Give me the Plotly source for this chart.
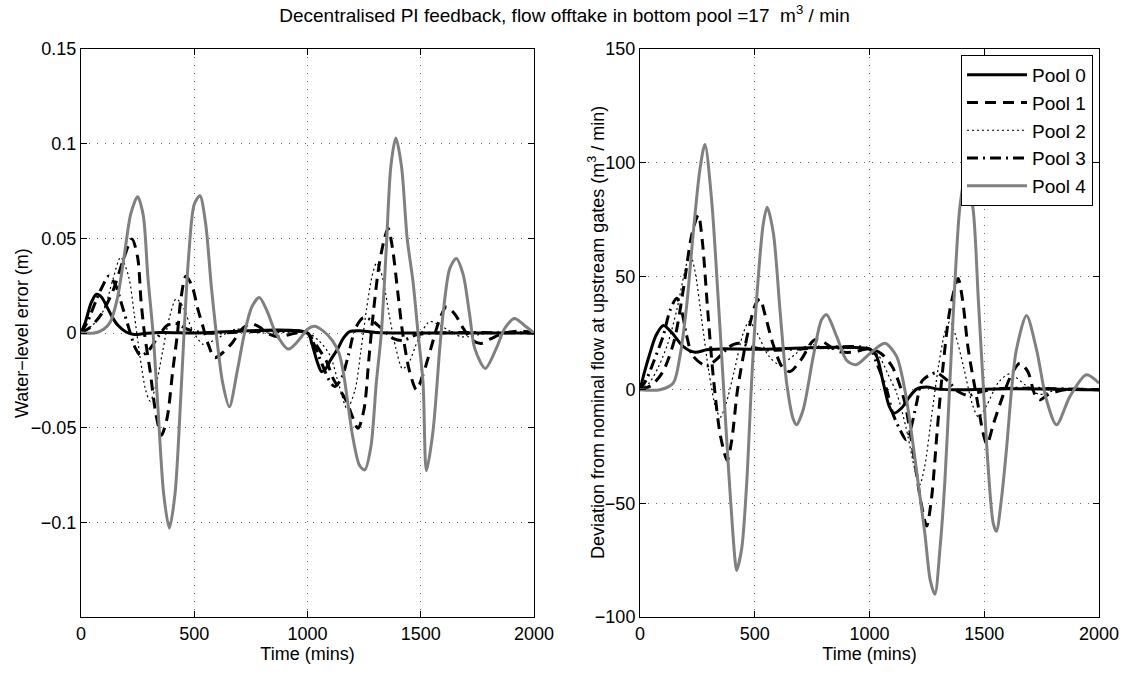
import plotly.graph_objects as go

# ---------------- data ----------------
# Left panel: water-level error (m)
t_l0 = [0, 20, 45, 68, 90, 118, 140, 162, 199, 235, 280, 350, 500, 1000, 1020, 1045, 1062, 1080, 1098, 1135, 1157, 1186, 1230, 1300, 1500, 2000]
y_l0 = [0, 0.006, 0.016, 0.0205, 0.019, 0.013, 0.008, 0.0042, 0.0005, -0.0008, -0.0003, 0.0003, 0, 0, -0.006, -0.016, -0.0204, -0.019, -0.015, -0.008, -0.003, 0.0007, 0.0012, 0.0003, 0, 0]

t_l1 = [0, 40, 90, 140, 185, 225, 250, 265, 280, 305, 331, 355, 380, 405, 426, 441, 463, 490, 515, 537, 559, 590, 630, 669, 710, 750, 790, 820, 870, 950,
        1000, 1025, 1084, 1113, 1172, 1223, 1250, 1270, 1290, 1315, 1340, 1356, 1375, 1400, 1420, 1450, 1481, 1510, 1545, 1580, 1613, 1650, 1690, 1730, 1767, 1810, 1870, 1950, 2000]
y_l1 = [0, 0.003, 0.01, 0.022, 0.038, 0.0496, 0.04, 0.017, 0, -0.02, -0.043, -0.054, -0.045, -0.02, 0, 0.018, 0.03, 0.025, 0.013, 0.004, -0.005, -0.013, -0.01, -0.005, 0.002, 0.005, 0.003, 0, -0.002, 0,
        0, -0.004, -0.015, -0.024, -0.036, -0.0503, -0.04, -0.015, 0.01, 0.035, 0.05, 0.0553, 0.045, 0.02, 0, -0.02, -0.03, -0.022, -0.008, 0.006, 0.0139, 0.01, 0.002, -0.004, -0.0055, -0.003, 0, 0.001, 0]

t_l2 = [0, 50, 100, 140, 175, 210, 235, 260, 285, 305, 330, 360, 390, 420, 450, 490, 540, 600, 680, 800,
        1000, 1050, 1100, 1140, 1175, 1210, 1235, 1260, 1285, 1305, 1330, 1360, 1390, 1420, 1450, 1490, 1540, 1600, 1680, 1800, 2000]
y_l2 = [0, 0.004, 0.012, 0.028, 0.04, 0.03, 0.01, -0.012, -0.03, -0.036, -0.028, -0.01, 0.008, 0.018, 0.014, 0.002, -0.006, -0.003, 0.002, 0,
        0, -0.004, -0.012, -0.028, -0.04, -0.03, -0.01, 0.012, 0.03, 0.037, 0.03, 0.01, -0.008, -0.019, -0.015, -0.003, 0.006, 0.003, -0.002, 0, 0]

t_l3 = [0, 29, 66, 96, 122, 150, 180, 210, 240, 265, 300, 340, 380, 420, 470, 550,
        1000, 1029, 1066, 1096, 1120, 1150, 1180, 1210, 1245, 1280, 1330, 1380, 1420, 1480, 1560, 2000]
y_l3 = [0, 0.006, 0.017, 0.025, 0.03, 0.026, 0.015, 0.003, -0.008, -0.012, -0.009, -0.002, 0.004, 0.005, 0.002, 0,
        0, -0.006, -0.017, -0.025, -0.0283, -0.024, -0.012, 0.002, 0.008, 0.007, 0.002, -0.003, -0.004, -0.001, 0, 0]

t_l4 = [0, 60, 100, 130, 160, 190, 220, 250, 275, 295, 318, 340, 365, 390, 415, 440, 455, 475, 500, 525, 550, 575, 597, 625, 655, 690, 722, 755, 787, 820, 860, 915, 960,
        1000, 1030, 1070, 1110, 1140, 1160, 1200, 1230, 1253, 1280, 1304, 1326, 1348, 1368, 1390, 1415, 1440, 1466, 1488, 1510, 1525, 1554, 1584, 1598, 1628, 1657, 1687, 1716, 1738, 1785, 1834, 1871, 1914, 1958, 2000]
y_l4 = [0, 0, 0.002, 0.006, 0.018, 0.04, 0.063, 0.072, 0.062, 0.03, 0, -0.04, -0.085, -0.103, -0.085, -0.035, 0, 0.04, 0.068, 0.0725, 0.058, 0.025, 0, -0.026, -0.039, -0.02, 0, 0.014, 0.0187, 0.012, 0, -0.0085, -0.004,
        0.002, 0.0035, 0.001, -0.004, -0.011, -0.022, -0.055, -0.07, -0.0723, -0.06, -0.026, 0, 0.045, 0.088, 0.103, 0.088, 0.05, 0.027, 0, -0.026, -0.0727, -0.052, -0.008, 0.0095, 0.034, 0.0394, 0.031, 0.0095, -0.008, -0.0187, -0.008, 0.0025, 0.0077, 0.004, 0]

# Right panel: deviation from nominal flow (m^3/min)
t_r0 = [0, 20, 40, 70, 102, 140, 189, 240, 290, 350, 500, 1000, 1030, 1060, 1085, 1105, 1140, 1175, 1205, 1249, 1300, 1400, 1600, 2000]
y_r0 = [0, 8, 15, 24, 28.3, 25, 19, 16.5, 17.6, 18, 17.8, 17.9, 15, 3, -7, -10.3, -8, -3, 0.3, 1.2, 0.3, 0, 0.5, 0]

t_r1 = [0, 50, 100, 150, 190, 225, 254, 272, 295, 320, 350, 380, 400, 425, 470, 505, 523, 545, 580, 620, 653, 700, 760, 800, 860, 920,
        1000, 1050, 1100, 1150, 1190, 1225, 1249, 1270, 1295, 1320, 1350, 1386, 1405, 1430, 1470, 1495, 1512, 1540, 1580, 1620, 1655, 1690, 1720, 1742, 1780, 1850, 2000]
y_r1 = [0, 2, 8, 22, 45, 68, 77, 65, 35, 5, -20, -31, -22, 0, 25, 38, 40, 33, 20, 10, 8, 13, 22, 21, 17, 16.5,
        18, 16, 10, -4, -27, -50, -60, -48, -18, 10, 35, 49, 40, 18, -5, -19, -24, -15, -3, 7, 11.7, 8, -2, -4.4, -2, 0, 0]

t_r2 = [0, 40, 80, 120, 160, 195, 218, 240, 270, 300, 330, 350, 375, 410, 450, 475, 510, 560, 610, 680, 740, 820,
        1000, 1040, 1080, 1120, 1160, 1195, 1218, 1240, 1270, 1300, 1330, 1350, 1375, 1410, 1450, 1475, 1510, 1560, 1610, 1680, 1740, 1820, 2000]
y_r2 = [0, 3, 10, 20, 35, 52, 60, 52, 30, 8, -8, -12, -6, 8, 25, 30, 25, 15, 11, 16, 20, 18,
        18, 15, 7, -2, -17, -34, -42, -34, -12, 10, 26, 30, 24, 10, -7, -12, -7, 3, 7, 2, -2, 0, 0]

t_r3 = [0, 30, 58, 102, 131, 160, 181, 203, 230, 290, 340, 390, 430, 480, 560, 700,
        1000, 1030, 1075, 1100, 1130, 1160, 1180, 1205, 1230, 1290, 1340, 1390, 1430, 1480, 1560, 2000]
y_r3 = [0, 5, 12, 24, 35, 40.3, 35, 24, 15, 10.5, 14, 19, 20.5, 19, 17.5, 18,
        18, 12, 0, -10, -17, -22, -17, -6, 4, 7.5, 4, -1, -2.5, -1, 0.5, 0]

t_r4 = [0, 87, 145, 174, 203, 232, 261, 283, 312, 341, 363, 385, 414, 421, 443, 465, 486, 508, 537, 554, 581, 610, 639, 668, 682, 711, 755, 791, 813, 857, 900, 941,
        1002, 1067, 1118, 1154, 1183, 1212, 1241, 1265, 1285, 1307, 1328, 1350, 1372, 1394, 1421, 1452, 1474, 1495, 1517, 1539, 1553, 1575, 1597, 1619, 1640, 1684, 1728, 1771, 1815, 1873, 1945, 2000]
y_r4 = [0, 0, 3, 14.7, 36.7, 69, 97, 108, 83.6, 39.6, 3, -33.7, -74.8, -79.5, -70, -41, 3, 39.6, 73, 80.4, 69, 35, 3, -13, -15.4, -8.8, 14.7, 30.8, 33, 23.5, 13, 11,
        16, 20.5, 14.7, 0, -19, -41, -63, -84, -90, -70, -41, 3, 47, 80.6, 96, 79, 40, 3, -34, -58.7, -62.3, -48, -26, 0, 17.6, 32.7, 17.6, -4.4, -15.4, -3, 6.6, 2.9]

names = ["Pool 0", "Pool 1", "Pool 2", "Pool 3", "Pool 4"]
left_t = [t_l0, t_l1, t_l2, t_l3, t_l4]
left_y = [y_l0, y_l1, y_l2, y_l3, y_l4]
right_t = [t_r0, t_r1, t_r2, t_r3, t_r4]
right_y = [y_r0, y_r1, y_r2, y_r3, y_r4]

styles = [
    dict(color="black", width=3, dash="solid"),
    dict(color="black", width=3, dash="11px,7px"),
    dict(color="black", width=1.2, dash="2px,3px"),
    dict(color="black", width=3, dash="11px,5px,2px,5px"),
    dict(color="#808080", width=3, dash="solid"),
]

fig = go.Figure()
for i in range(5):
    fig.add_trace(go.Scatter(x=left_t[i], y=left_y[i], mode="lines", name=names[i],
                             line=dict(shape="spline", smoothing=0.8, **styles[i]),
                             showlegend=False, xaxis="x", yaxis="y"))
for i in range(5):
    fig.add_trace(go.Scatter(x=right_t[i], y=right_y[i], mode="lines", name=names[i],
                             line=dict(shape="spline", smoothing=0.8, **styles[i]),
                             showlegend=True, xaxis="x2", yaxis="y2"))

W, H = 1129, 677
font = "Liberation Sans, Arial, Helvetica, sans-serif"
FS = 18
axis_common = dict(
    showline=True, linecolor="black", linewidth=1, mirror="ticks",
    ticks="inside", ticklen=6, tickcolor="black",
    showgrid=True, gridcolor="rgba(0,0,0,0.6)", griddash="1px,7px", gridwidth=1,
    zeroline=False, automargin=False,
    tickfont=dict(family=font, size=FS, color="black"),
)

xticks = [0, 500, 1000, 1500, 2000]
yl_ticks = [-0.1, -0.05, 0, 0.05, 0.1, 0.15]
yl_text = ["\u22120.1", "\u22120.05", "0", "0.05", "0.1", "0.15"]
yr_ticks = [-100, -50, 0, 50, 100, 150]
yr_text = ["\u2212100", "\u221250", "0", "50", "100", "150"]

y_mid = 1 - 333 / H

fig.update_layout(
    width=W, height=H,
    margin=dict(l=0, r=0, t=0, b=0),
    paper_bgcolor="white", plot_bgcolor="white",
    font=dict(family=font, size=FS, color="black"),
    title=dict(text="Decentralised PI feedback, flow offtake in bottom pool =17  m<sup>3</sup> / min",
               x=0.5, xanchor="center", y=1 - 15 / H, yanchor="middle",
               font=dict(family=font, size=19, color="black")),
    xaxis=dict(domain=[81 / W, 534 / W], range=[0, 2000], tickvals=xticks,
               title=dict(text="Time (mins)", standoff=4, font=dict(size=FS)), anchor="y", **axis_common),
    yaxis=dict(domain=[1 - 617 / H, 1 - 49 / H], range=[-0.15, 0.15], tickvals=yl_ticks, ticktext=yl_text,
               anchor="x", **axis_common),
    xaxis2=dict(domain=[640 / W, 1099 / W], range=[0, 2000], tickvals=xticks,
                title=dict(text="Time (mins)", standoff=4, font=dict(size=FS)), anchor="y2", **axis_common),
    yaxis2=dict(domain=[1 - 617 / H, 1 - 49 / H], range=[-100, 150], tickvals=yr_ticks, ticktext=yr_text,
                anchor="x2", **axis_common),
    legend=dict(x=1093 / W, xanchor="right", y=1 - 55 / H, yanchor="top",
                bgcolor="white", bordercolor="black", borderwidth=1,
                font=dict(family=font, size=19, color="black"),
                tracegroupgap=0, itemwidth=60),
    annotations=[
        dict(text="Water\u2212level error (m)", x=22 / W, y=y_mid, xref="paper", yref="paper",
             xanchor="center", yanchor="middle", textangle=-90, showarrow=False,
             font=dict(family=font, size=FS, color="black")),
        dict(text="Deviation from nominal flow at upstream gates (m<sup>3</sup> / min)", x=596 / W, y=y_mid,
             xref="paper", yref="paper", xanchor="center", yanchor="middle", textangle=-90, showarrow=False,
             font=dict(family=font, size=FS, color="black")),
    ],
)

fig.write_html("out.html")
